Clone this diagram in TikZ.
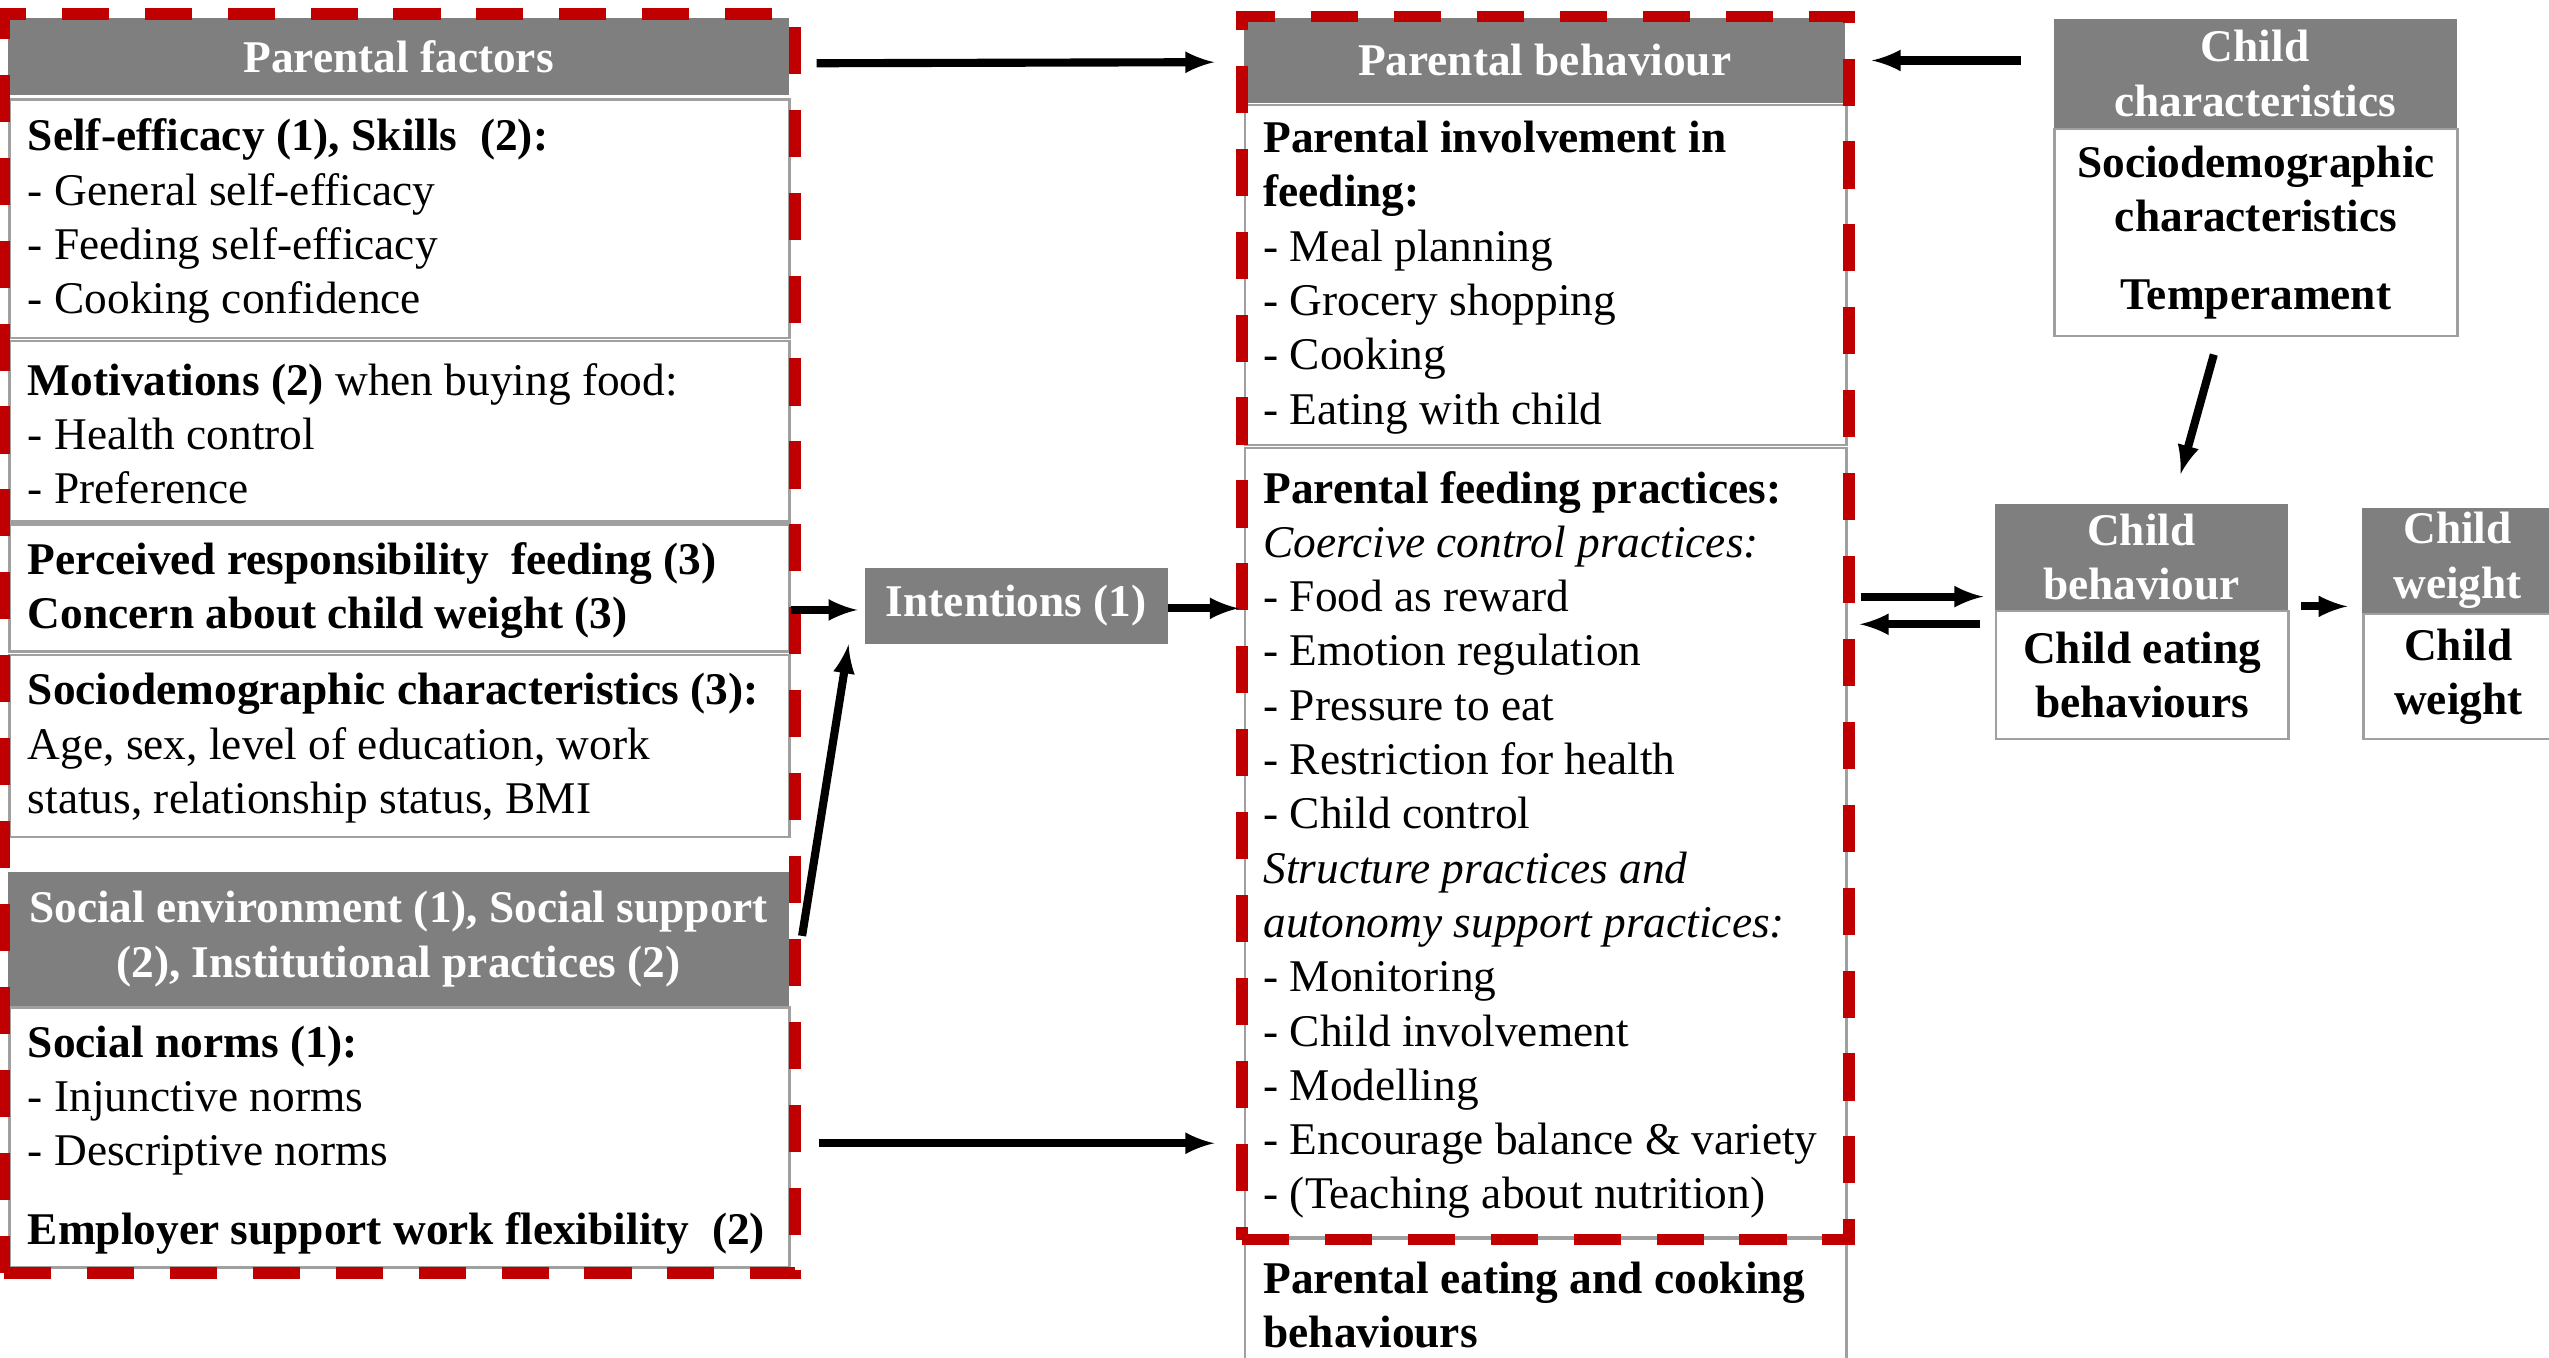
\documentclass[tikz,border=0pt]{standalone}
\usepackage{fontspec}
\setmainfont{Liberation Serif}
\usepackage{tikz}
\usetikzlibrary{arrows, math, fit}

\definecolor{hdgray}{HTML}{7F7F7F}
\definecolor{lngray}{HTML}{A0A0A0}
\definecolor{dashred}{HTML}{C00000}
\newcommand{\dgmfont}{\fontsize{27.9pt}{33.4pt}\selectfont}

\begin{document}
\begin{tikzpicture}[x=1pt, y=-1pt,
    headbox/.style={anchor=north west, fill=hdgray, text=white, font=\dgmfont\bfseries, align=center, inner sep=0pt},
    listbox/.style={anchor=north west, draw=lngray, line width=1.5pt, inner sep=0pt},
    listtext/.style={anchor=west, xshift=12pt, yshift=-1.5pt, font=\dgmfont, align=left, inner sep=0pt},
    childbox/.style={anchor=north west, draw=lngray, line width=1.5pt, font=\dgmfont\bfseries, align=center, inner sep=0pt},
    redframe/.style={draw=dashred, line width=7pt, dash pattern=on 29pt off 22pt},
    arr/.style={-latex, line width=5pt}]
    \tikzmath{\xL = 5; \xM = 765; \xC = 1263; \xB = 1227; \xW = 1453;}
    \useasboundingbox (0,0) rectangle (1568,835);

    % parental factors
    \node[headbox, minimum width=480, minimum height=47.5](pf-head) at (\xL,11) {Parental factors};
    \node[listbox, minimum width=480, minimum height=146.5](self-eff) at (\xL,60.5) {};
    \node[listtext](self-eff-txt) at (self-eff.west) {\textbf{Self-efficacy (1), Skills\ \ (2):}\\- General self-efficacy\\- Feeding self-efficacy\\- Cooking confidence};
    \node[listbox, minimum width=480, minimum height=111](motiv) at (\xL,209) {};
    \node[listtext](motiv-txt) at (motiv.west) {\textbf{Motivations (2)} when buying food:\\- Health control\\- Preference};
    \node[listbox, minimum width=480, minimum height=78](resp) at (\xL,322) {};
    \node[listtext](resp-txt) at (resp.west) {\textbf{Perceived responsibility\ \ feeding (3)}\\\textbf{Concern about child weight (3)}};
    \node[listbox, minimum width=480, minimum height=112](socdem) at (\xL,402) {};
    \node[listtext](socdem-txt) at (socdem.west) {\textbf{Sociodemographic characteristics (3):}\\Age, sex, level of education, work\\status, relationship status, BMI};

    \node[headbox, minimum width=480, minimum height=83](soc-head) at (\xL,536) {Social environment (1), Social support\\(2), Institutional practices (2)};
    \node[listbox, minimum width=480, minimum height=160](norms) at (\xL,619) {};
    \node[listtext](norms-txt) at (norms.west) {\textbf{Social norms (1):}\\- Injunctive norms\\- Descriptive norms\\[15pt]\textbf{Employer support work flexibility\ \ (2)}};

    \node[headbox, minimum width=186, minimum height=47](intent) at (532,349) {Intentions (1)};

    % parental behaviour
    \node[headbox, minimum width=370, minimum height=52](pb-head) at (\xM,11) {Parental behaviour};
    \node[listbox, minimum width=370, minimum height=209](involve) at (\xM,64) {};
    \node[listtext](involve-txt) at (involve.west) {\textbf{Parental involvement in}\\\textbf{feeding:}\\- Meal planning\\- Grocery shopping\\- Cooking\\- Eating with child};
    \node[listbox, minimum width=370, minimum height=485](practice) at (\xM,275) {};
    \node[listtext](practice-txt) at (practice.west) {\textbf{Parental feeding practices:}\\\textit{Coercive control practices:}\\- Food as reward\\- Emotion regulation\\- Pressure to eat\\- Restriction for health\\- Child control\\\textit{Structure practices and}\\\textit{autonomy support practices:}\\- Monitoring\\- Child involvement\\- Modelling\\- Encourage balance \& variety\\- (Teaching about nutrition)};
    \node[listbox, minimum width=370, minimum height=79](eating) at (\xM,761) {};
    \node[listtext](eating-txt) at (eating.west) {\textbf{Parental eating and cooking}\\\textbf{behaviours}};

    % child
    \node[headbox, minimum width=248, minimum height=67](cc-head) at (\xC,11.5) {Child\\characteristics};
    \node[childbox, minimum width=248, minimum height=127.5](cc-body) at (\xC,78.5) {Sociodemographic\\characteristics\\[14pt]Temperament};
    \node[headbox, minimum width=180, minimum height=65](cb-head) at (\xB,310) {Child\\behaviour};
    \node[childbox, minimum width=180, minimum height=79](cb-body) at (\xB,375) {Child eating\\behaviours};
    \node[headbox, minimum width=117, minimum height=65](cw-head) at (\xW,312) {Child\\weight};
    \node[childbox, minimum width=117, minimum height=77](cw-body) at (\xW,377) {Child\\weight};

    \node[redframe, fit=(pf-head)(norms), inner sep=2.5pt](pf-frame) {};
    \node[redframe, fit=(pb-head)(practice), inner sep=1pt](pb-frame) {};

    \coordinate (in-a) at ([yshift=-2.5pt]intent.west);
    \coordinate (in-b) at ([yshift=-1.5pt]intent.east);
    \coordinate (nb) at ([yshift=-3.5pt]norms.east);
    \coordinate (ca) at ([yshift=8pt]cc-head.west);
    \coordinate (ra) at ([yshift=8pt]cb-body.north west);
    \coordinate (la) at ([yshift=-9pt]cb-body.north west);
    \coordinate (wa) at ([yshift=2pt]cb-body.north east);

    \draw[arr, shorten <=17pt, shorten >=18pt] ([yshift=-4pt]pf-head.east) -- ([yshift=-1pt]pb-head.west);
    \draw[arr, shorten >=4.5pt] (in-a -| resp.east) -- (in-a);
    \draw[arr, shorten >=3pt] (in-b) -- (in-b -| practice.west);
    \draw[arr] ([xshift=8pt, yshift=2pt]soc-head.east) -- ([xshift=-10pt]intent.south west);
    \draw[arr, shorten <=17pt, shorten >=18pt] (nb) -- (nb -| practice.west);
    \draw[arr, shorten <=20pt, shorten >=16pt] (ca) -- (ca -| pb-head.east);
    \draw[arr, shorten <=11pt, shorten >=19pt] ([xshift=-23pt]cc-body.south) -- ([xshift=19pt]cb-head.north);
    \draw[arr, shorten <=8pt, shorten >=7pt] (ra -| practice.east) -- (ra);
    \draw[arr, shorten <=9pt, shorten >=7.5pt] (la) -- (la -| practice.east);
    \draw[arr, shorten <=7pt, shorten >=9pt] (wa) -- (wa -| cw-head.west);
\end{tikzpicture}
\end{document}
